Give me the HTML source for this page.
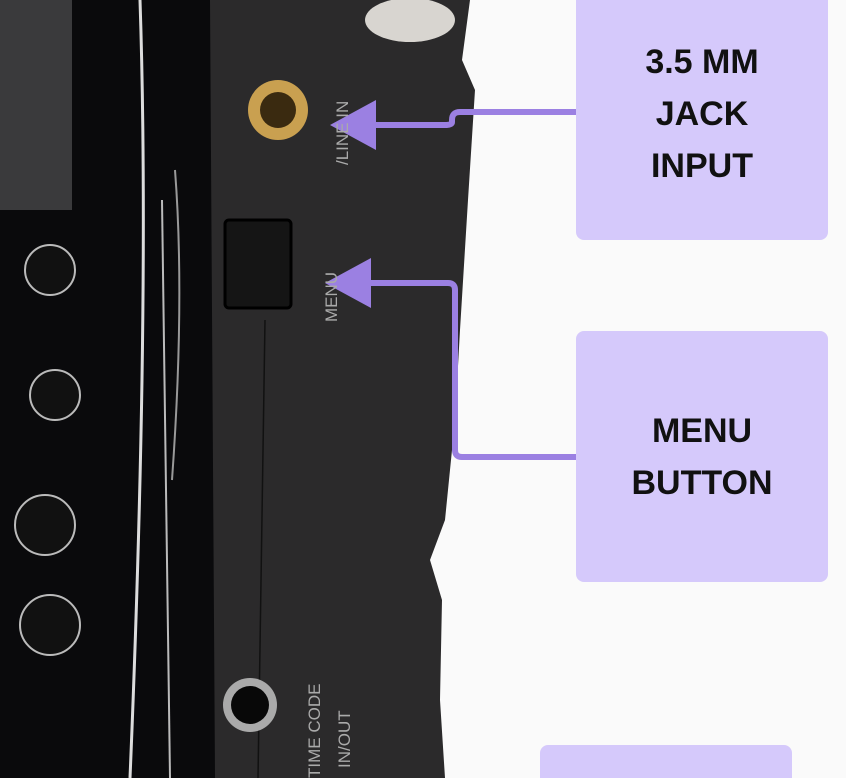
<!DOCTYPE html>
<html style="overflow:hidden;height:778px"><head><style>
body{margin:0;width:846px;height:778px;overflow:hidden;background:#fafafa;position:relative;font-family:"Liberation Sans",sans-serif}
.box{position:absolute;background:#d5c9fb;border-radius:8px;display:flex;align-items:center;justify-content:center;text-align:center;font-weight:bold;font-size:34px;line-height:52px;color:#111}
.lbl{position:absolute;color:#aaa;font-size:17px;transform:rotate(-90deg);transform-origin:left top;white-space:nowrap}
</style></head><body>
<svg width="846" height="778" style="position:absolute;left:0;top:0">
<rect x="0" y="0" width="230" height="778" fill="#0a0a0c"/>
<path d="M210 0 L470 0 L462 60 L475 90 L468 200 L460 330 L455 420 L445 520 L430 560 L442 600 L440 700 L445 778 L215 778 Z" fill="#2b2a2b"/>
<rect x="0" y="0" width="72" height="210" fill="#3a3a3c"/>
<path d="M140 0 Q150 300 130 778" stroke="#ddd" stroke-width="3" fill="none"/>
<path d="M162 200 Q165 400 170 778" stroke="#bbb" stroke-width="2" fill="none"/>
<path d="M175 170 Q185 300 172 480" stroke="#999" stroke-width="2" fill="none"/>
<line x1="265" y1="320" x2="258" y2="778" stroke="#111" stroke-width="1.5"/>
<circle cx="50" cy="270" r="25" fill="#111" stroke="#bbb" stroke-width="2"/>
<circle cx="55" cy="395" r="25" fill="#111" stroke="#bbb" stroke-width="2"/>
<circle cx="45" cy="525" r="30" fill="#111" stroke="#bbb" stroke-width="2"/>
<circle cx="50" cy="625" r="30" fill="#111" stroke="#bbb" stroke-width="2"/>
<circle cx="278" cy="110" r="30" fill="#c9a050"/>
<circle cx="278" cy="110" r="18" fill="#3a2a10"/>
<ellipse cx="410" cy="20" rx="45" ry="22" fill="#d8d5d0"/>
<rect x="225" y="220" width="66" height="88" rx="4" fill="#151515" stroke="#000" stroke-width="3"/>
<circle cx="250" cy="705" r="27" fill="#aaa"/>
<circle cx="250" cy="705" r="19" fill="#080808"/>
<g stroke="#9b80e2" stroke-width="6" fill="none">
<path d="M576 112 L460 112 Q452 112 452 120 L452 122 Q452 125 445 125 L370 125"/>
<path d="M576 457 L462 457 Q455 457 455 450 L455 290 Q455 283 448 283 L365 283"/>
</g>
<polygon points="330,125 376,100 376,150" fill="#9b80e2"/>
<polygon points="325,283 371,258 371,308" fill="#9b80e2"/>
</svg>
<div class="lbl" style="left:333px;top:165px">/LINE IN</div>
<div class="lbl" style="left:322px;top:322px">MENU</div>
<div class="lbl" style="left:305px;top:778px">TIME CODE</div>
<div class="lbl" style="left:335px;top:768px">IN/OUT</div>
<div class="box" style="left:576px;top:-12px;width:252px;height:252px">3.5 MM<br>JACK<br>INPUT</div>
<div class="box" style="left:576px;top:331px;width:252px;height:251px">MENU<br>BUTTON</div>
<div class="box" style="left:540px;top:745px;width:252px;height:33px;border-radius:8px 8px 0 0"></div>
</body></html>
